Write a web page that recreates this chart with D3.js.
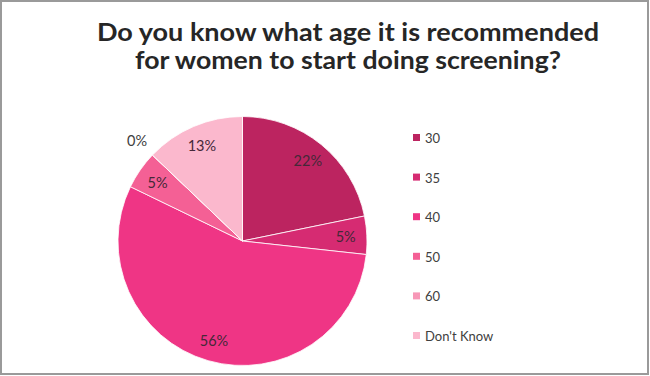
<!DOCTYPE html>
<html><head><meta charset="utf-8">
<script src="https://cdn.jsdelivr.net/npm/d3@7"></script>
<style>html,body{margin:0;padding:0;background:#fff;}</style>
</head><body>
<svg id="chart" width="650" height="376"></svg>
<script>
const categories = ["30", "35", "40", "50", "60", "Don't Know"];
const values = [22, 5, 56, 5, 0, 13];
const colors = ["#BC2460", "#D62B72", "#EF3585", "#F46095", "#F798B7", "#FBB8CD"];
const titleLines = ["Do you know what age it is recommended", "for women to start doing screening?"];

const svg = d3.select("#chart");
svg.append("rect").attr("x", 1).attr("y", 1).attr("width", 647).attr("height", 373)
  .attr("fill", "#fff").attr("stroke", "#9a9a9a").attr("stroke-width", 2);

const font = "'Century Gothic', 'URW Gothic', Lato, 'DejaVu Sans', sans-serif";
const titleWidths = [502, 426];
svg.append("g").selectAll("text").data(titleLines).join("text")
  .attr("x", 348).attr("y", (d, i) => 41 + i * 28)
  .attr("text-anchor", "middle").attr("font-family", font)
  .attr("font-weight", "bold").attr("font-size", 24).attr("fill", "#262626")
  .attr("textLength", (d, i) => titleWidths[i]).attr("lengthAdjust", "spacingAndGlyphs")
  .text(d => d);

const cx = 242.5, cy = 241, r = 124.5;
const data = categories.map((c, i) => ({cat: c, value: values[i], color: colors[i]}));
const pie = d3.pie().value(d => d.value).sort(null);
const arcs = pie(data);
const arc = d3.arc().innerRadius(0).outerRadius(r);
const g = svg.append("g").attr("transform", `translate(${cx},${cy})`);
g.selectAll("path").data(arcs).join("path")
  .attr("d", arc).attr("fill", d => d.data.color)
  .attr("stroke", "#fff").attr("stroke-width", 0.8);

const labelArc = d3.arc().innerRadius(r * 0.83).outerRadius(r * 0.83);
const outerArc = d3.arc().innerRadius(r * 1.17).outerRadius(r * 1.17);
g.selectAll("text").data(arcs).join("text")
  .attr("transform", d => {
    const p = d.data.value === 0 ? outerArc.centroid(d) : labelArc.centroid(d);
    return `translate(${p[0]},${p[1]})`;
  })
  .attr("text-anchor", "middle").attr("dominant-baseline", "central")
  .attr("font-family", font).attr("font-size", 14.5)
  .attr("fill", d => d.data.value === 0 ? "#404040" : "#452838")
  .text(d => d.data.value + "%");

const leg = svg.append("g").attr("transform", "translate(413,134)");
const li = leg.selectAll("g").data(data).join("g")
  .attr("transform", (d, i) => `translate(0,${i * 39.6})`);
li.append("rect").attr("width", 7).attr("height", 7).attr("fill", d => d.color);
li.append("text").attr("x", 12).attr("y", 4).attr("dominant-baseline", "central")
  .attr("font-family", font).attr("font-size", 13).attr("fill", "#404040")
  .text(d => d.cat);
</script>
</body></html>
